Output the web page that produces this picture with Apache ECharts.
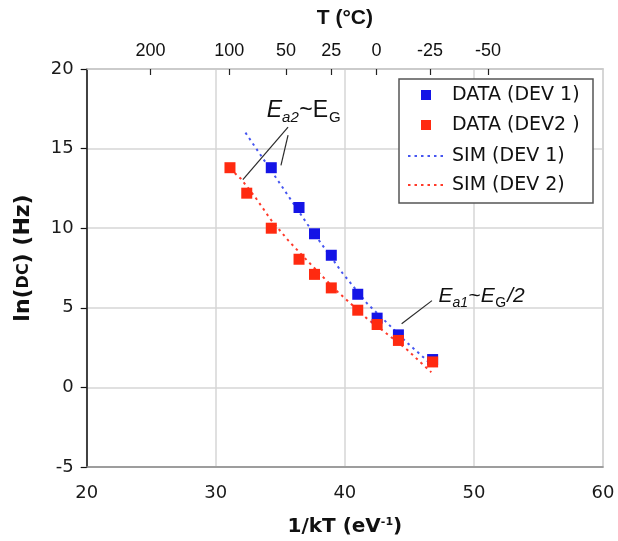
<!DOCTYPE html>
<html>
<head>
<meta charset="utf-8">
<script src="https://cdn.jsdelivr.net/npm/echarts@6/dist/echarts.min.js"></script>
<style>
  html, body { margin: 0; padding: 0; background: #fff; }
  #chart { width: 618px; height: 541px; }
</style>
</head>
<body>
<div id="chart"></div>
<script>
// Measured dark-count rate: x = 1/kT (eV^-1), y = ln(DC) (Hz)
const dev1InvKT = [34.3, 36.45, 37.65, 38.95, 41.0, 42.5, 44.15, 46.8];
const dev1LnDC  = [13.8, 11.3, 9.65, 8.3, 5.85, 4.35, 3.3, 1.75];
const dev2InvKT = [31.1, 32.4, 34.3, 36.45, 37.65, 38.95, 41.0, 42.5, 44.15, 46.8];
const dev2LnDC  = [13.8, 12.2, 10.0, 8.05, 7.1, 6.25, 4.85, 3.95, 2.95, 1.6];

// Simulated curves
const sim1InvKT = [32.3, 34.85, 37.1, 39.8, 41.75, 43.4, 44.7, 45.8, 46.9];
const sim1LnDC  = [16.0, 12.95, 10.25, 7.2, 5.25, 3.95, 2.9, 2.1, 1.3];
const sim2InvKT = [31.1, 31.95, 33.1, 34.25, 35.65, 37.1, 38.35, 39.45, 40.2, 41.75, 43.2, 44.85, 45.9, 46.7];
const sim2LnDC  = [13.75, 13.1, 11.9, 10.55, 9.2, 7.95, 6.9, 6.0, 5.45, 4.3, 3.4, 2.35, 1.55, 0.95];

// Temperature scale on the top axis (tick position in 1/kT units)
const tempLabels = ['200', '100', '50', '25', '0', '-25', '-50'];
const tempAt     = [24.95, 31.05, 35.45, 38.95, 42.45, 46.6, 51.1];

// Activation-energy call-outs: leader lines [from, to] in data units
const ea2Leaders = [[[35.6, 16.35], [32.1, 13.05]], [[35.6, 15.85], [35.05, 13.95]]];
const ea1Leaders = [[[46.75, 5.45], [44.4, 4.0]]];
const ea2TextAt = [33.95, 16.9];
const ea1TextAt = [47.25, 5.3];

const pairs = (xs, ys) => xs.map((x, i) => [x, ys[i]]);

const numFont = 'DejaVu Sans';
const gridGray = '#d6d6d6';
const blueData = '#1414e6', redData = '#ff2a10';
const blueSim = '#4656f0', redSim = '#ff3a2a';
const simDash = [2.5, 4];

const chart = echarts.init(document.getElementById('chart'), null, { renderer: 'canvas' });

const option = {
  animation: false,
  backgroundColor: '#fff',
  grid: {
    left: 86.7, right: 15, top: 69, bottom: 74,
    outerBoundsMode: 'none', containLabel: false,
    show: true, borderColor: '#c8c8c8', borderWidth: 1.5, backgroundColor: 'transparent'
  },
  legend: { show: false },
  xAxis: [
    {
      type: 'value', position: 'bottom',
      min: 20, max: 60, interval: 10,
      axisLine: { show: true, onZero: false, lineStyle: { color: '#8a8a8a', width: 1.5 } },
      axisTick: { show: false },
      splitLine: { show: true, lineStyle: { color: gridGray, width: 1.5 } },
      axisLabel: { fontFamily: numFont, fontSize: 18, color: '#1a1a1a', margin: 17 },
      name: '1/kT (eV{sup|-1})',
      nameLocation: 'middle', nameGap: 50,
      nameTextStyle: {
        fontFamily: numFont, fontSize: 20, fontWeight: 'bold', color: '#111',
        rich: { sup: { fontFamily: numFont, fontSize: 11, fontWeight: 'bold', color: '#111', verticalAlign: 'top', lineHeight: 12 } }
      }
    },
    {
      type: 'value', position: 'top',
      min: 20, max: 60,
      axisLine: { show: true, onZero: false, lineStyle: { color: '#c8c8c8', width: 1.5 } },
      axisTick: { show: true, inside: true, length: 6, customValues: tempAt, lineStyle: { color: '#222', width: 1.2 } },
      axisLabel: {
        customValues: tempAt,
        fontFamily: 'Liberation Sans', fontSize: 18, color: '#111', margin: 9,
        formatter: v => {
          let k = 0;
          for (let i = 1; i < tempAt.length; i++) if (Math.abs(tempAt[i] - v) < Math.abs(tempAt[k] - v)) k = i;
          return tempLabels[k];
        }
      },
      splitLine: { show: false },
      name: 'T (°C)',
      nameLocation: 'middle', nameGap: 40,
      nameTextStyle: { fontFamily: 'Liberation Sans', fontSize: 21, fontWeight: 'bold', color: '#111' }
    }
  ],
  yAxis: {
    type: 'value',
    min: -5, max: 20, interval: 5,
    axisLine: { show: true, onZero: false, lineStyle: { color: '#111', width: 1.5 } },
    axisTick: { show: true, inside: false, length: 6, lineStyle: { color: '#111', width: 1.2 } },
    splitLine: { show: true, lineStyle: { color: gridGray, width: 1.5 } },
    axisLabel: { fontFamily: numFont, fontSize: 18, color: '#1a1a1a', margin: 13 },
    name: 'ln({sc|DC}) (Hz)',
    nameLocation: 'middle', nameGap: 52, nameRotate: 90,
    nameTextStyle: {
      fontFamily: numFont, fontSize: 22, fontWeight: 'bold', color: '#111', padding: [0, 0, 0, 20],
      rich: { sc: { fontFamily: numFont, fontSize: 16, fontWeight: 'bold', color: '#111' } }
    }
  },
  series: [
    {
      name: 'SIM (DEV 1)', type: 'line', xAxisIndex: 0, yAxisIndex: 0,
      data: pairs(sim1InvKT, sim1LnDC),
      symbol: 'none', smooth: false, z: 2,
      itemStyle: { color: blueSim },
      lineStyle: { color: blueSim, width: 2, type: simDash },
      markLine: {
        silent: true, symbol: 'none', animation: false,
        label: { show: false },
        lineStyle: { color: '#2a2a2a', width: 1.2, type: 'solid' },
        data: ea2Leaders.concat(ea1Leaders).map(([a, b]) => [{ coord: a }, { coord: b }])
      }
    },
    {
      name: 'SIM (DEV 2)', type: 'line', xAxisIndex: 0, yAxisIndex: 0,
      data: pairs(sim2InvKT, sim2LnDC),
      symbol: 'none', smooth: false, z: 2,
      itemStyle: { color: redSim },
      lineStyle: { color: redSim, width: 2, type: simDash }
    },
    {
      name: 'DATA (DEV 1)', type: 'scatter', xAxisIndex: 0, yAxisIndex: 0,
      data: pairs(dev1InvKT, dev1LnDC),
      symbol: 'rect', symbolSize: 11, z: 3,
      itemStyle: { color: blueData, opacity: 1 }
    },
    {
      name: 'DATA (DEV2 )', type: 'scatter', xAxisIndex: 0, yAxisIndex: 0,
      data: pairs(dev2InvKT, dev2LnDC),
      symbol: 'rect', symbolSize: 11, z: 4,
      itemStyle: { color: redData, opacity: 1 }
    }
  ]
};

chart.setOption(option);

// Call-out text built from pieces (italic E, subscripts)
const measureCtx = document.createElement('canvas').getContext('2d');
function fontStr(p) {
  return (p.italic ? 'italic ' : '') + p.size + 'px "Liberation Sans"';
}
function buildLabel(anchor, pieces) {
  const base = chart.convertToPixel({ xAxisIndex: 0, yAxisIndex: 0 }, anchor);
  let cx = base[0];
  const out = [];
  pieces.forEach(p => {
    measureCtx.font = fontStr(p);
    const w = measureCtx.measureText(p.t).width;
    const baseline = base[1] + (p.sub ? p.drop : 0);
    out.push({
      type: 'text', silent: true, z: 20,
      x: cx + (p.dx || 0),
      y: baseline - 0.347 * p.size,
      style: { text: p.t, fill: '#111', font: fontStr(p), align: 'left', verticalAlign: 'middle' }
    });
    cx += w + (p.dx || 0);
  });
  return out;
}

const ea2Pieces = [
  { t: 'E', size: 23, italic: true },
  { t: 'a2', size: 15, italic: true, sub: true, drop: 5 },
  { t: '~', size: 23, dx: 0.5 },
  { t: 'E', size: 23 },
  { t: 'G', size: 15, sub: true, drop: 5, dx: 1 }
];
const ea1Pieces = [
  { t: 'E', size: 21, italic: true },
  { t: 'a1', size: 14, italic: true, sub: true, drop: 5 },
  { t: '~', size: 21, dx: 0.5 },
  { t: 'E', size: 21, italic: true },
  { t: 'G', size: 14, sub: true, drop: 5, dx: 0.5 },
  { t: '/2', size: 21, italic: true, dx: 1 }
];

// Legend box: square markers for measured data, dotted strokes for simulations
const legendItems = [
  { name: 'DATA (DEV 1)', kind: 'square', color: blueData },
  { name: 'DATA (DEV2 )', kind: 'square', color: redData },
  { name: 'SIM (DEV 1)', kind: 'dots', color: blueSim },
  { name: 'SIM (DEV 2)', kind: 'dots', color: redSim }
];
function buildLegend() {
  const box = { x: 399, y: 79, w: 194, h: 124 };
  const rowY = [95, 125, 156, 185];
  const els = [{
    type: 'rect', silent: true, z: 30,
    shape: { x: box.x, y: box.y, width: box.w, height: box.h },
    style: { fill: '#fff', stroke: '#555', lineWidth: 1.5 }
  }];
  legendItems.forEach((it, i) => {
    const cy = rowY[i];
    if (it.kind === 'square') {
      els.push({
        type: 'rect', silent: true, z: 31,
        shape: { x: 421, y: cy - 5, width: 10, height: 10 },
        style: { fill: it.color }
      });
    } else {
      els.push({
        type: 'line', silent: true, z: 31,
        shape: { x1: 408, y1: cy, x2: 445, y2: cy },
        style: { stroke: it.color, lineWidth: 2, lineDash: simDash }
      });
    }
    els.push({
      type: 'text', silent: true, z: 31,
      x: 452, y: cy,
      style: { text: it.name, fill: '#111', font: '19px "DejaVu Sans"', align: 'left', verticalAlign: 'middle' }
    });
  });
  return els;
}

chart.setOption({
  graphic: buildLabel(ea2TextAt, ea2Pieces).concat(buildLabel(ea1TextAt, ea1Pieces), buildLegend())
});
</script>
</body>
</html>
